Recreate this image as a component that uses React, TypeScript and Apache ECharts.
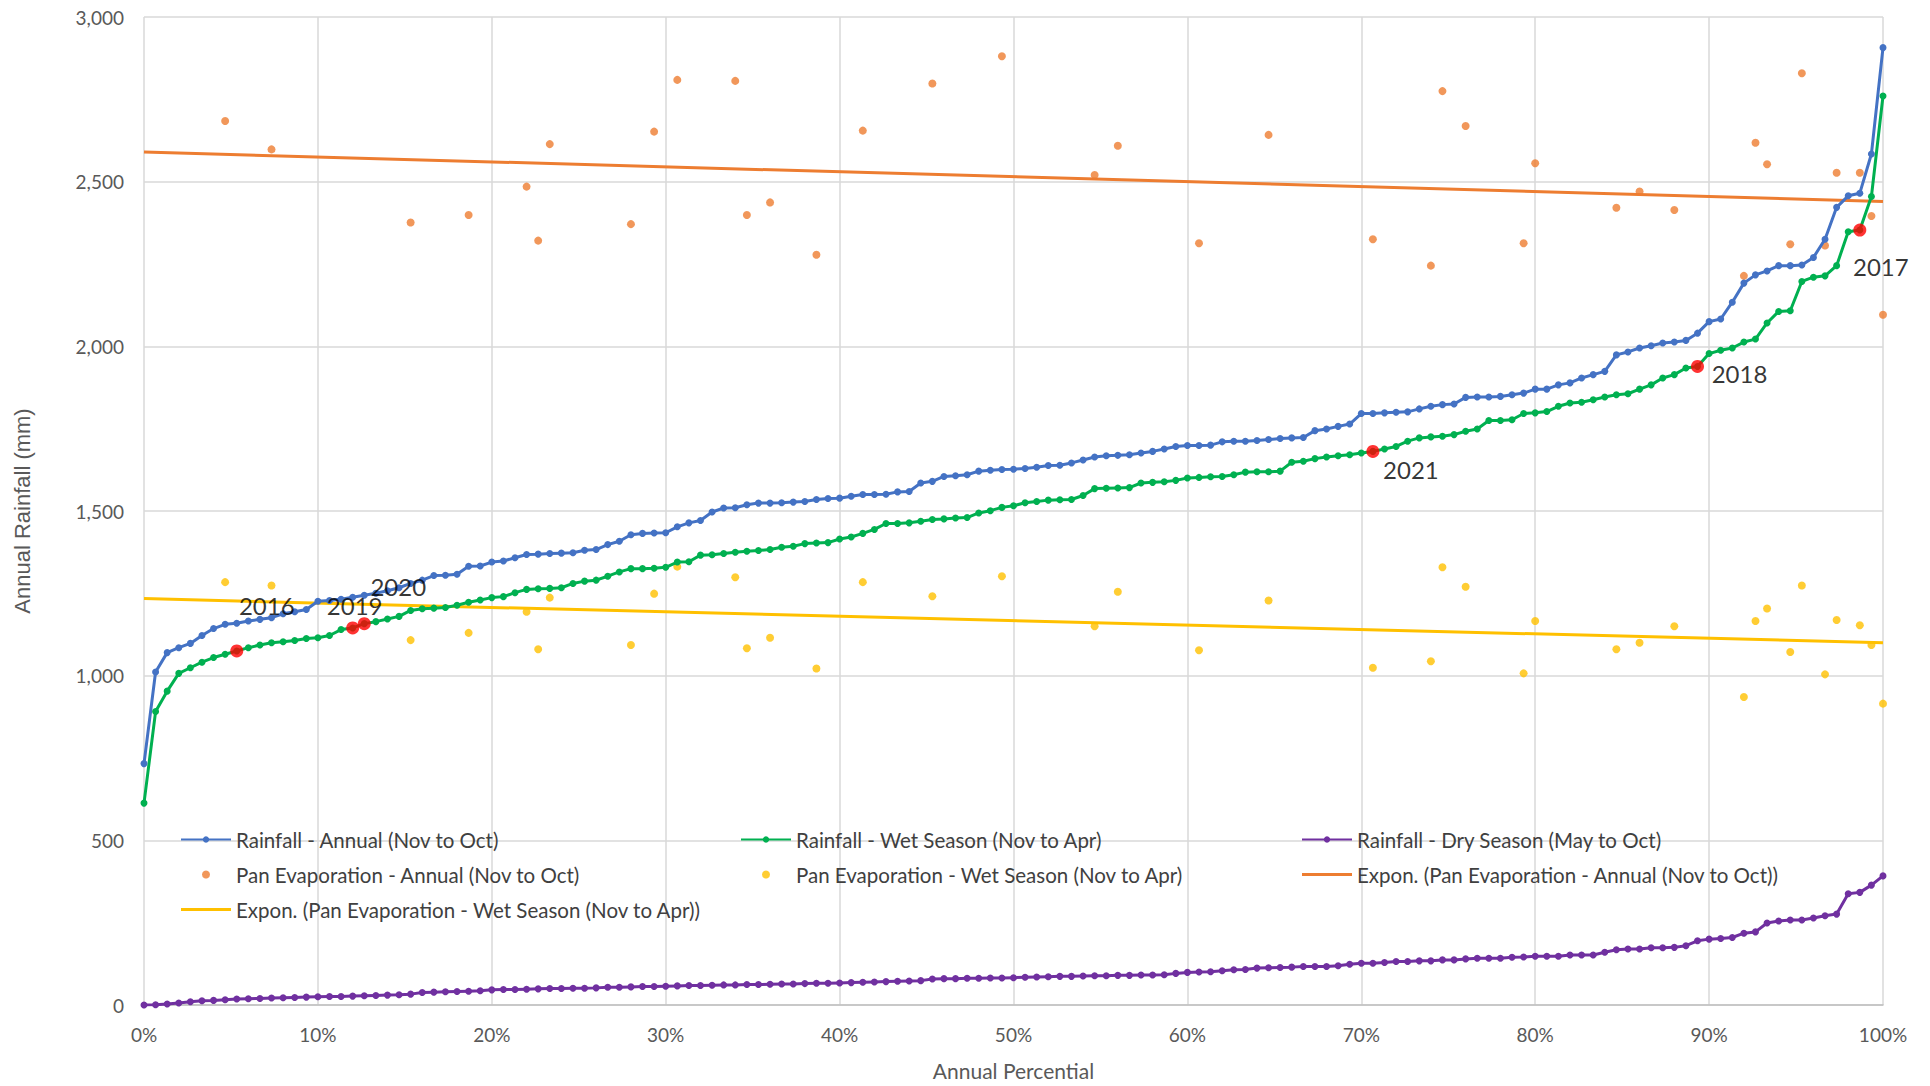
import React, { useEffect, useRef } from "react";
import * as echarts from "echarts";

// Rainfall sorted by rank (151 years), mm
const annualRain = [
  733, 1011, 1070, 1085, 1098, 1122, 1143, 1156, 1159, 1166,
  1171, 1176, 1188, 1194, 1201, 1226, 1228, 1232, 1238, 1244,
  1250, 1258, 1267, 1280, 1290, 1304, 1305, 1308, 1332, 1333,
  1345, 1348, 1358, 1368, 1369, 1371, 1372, 1373, 1381, 1383,
  1398, 1408, 1428, 1432, 1433, 1434, 1452, 1464, 1471, 1497,
  1509, 1510, 1519, 1524, 1524, 1525, 1527, 1529, 1535, 1538,
  1539, 1545, 1550, 1550, 1551, 1558, 1559, 1585, 1590, 1605,
  1607, 1610, 1621, 1624, 1626, 1627, 1629, 1633, 1638, 1639,
  1646, 1655, 1664, 1668, 1669, 1671, 1676, 1681, 1688, 1696,
  1699, 1699, 1700, 1710, 1712, 1712, 1714, 1717, 1720, 1722,
  1723, 1744, 1749, 1757, 1764, 1796, 1796, 1798, 1800, 1801,
  1810, 1818, 1823, 1825, 1845, 1846, 1846, 1848, 1853, 1858,
  1870, 1870, 1883, 1889, 1904, 1914, 1924, 1974, 1983, 1995,
  2002, 2010, 2013, 2018, 2040, 2075, 2083, 2134, 2192, 2217,
  2229, 2245, 2245, 2247, 2270, 2325, 2422, 2457, 2465, 2584,
  2907,
];

const wetRain = [
  613, 891, 953, 1007, 1024, 1041, 1055, 1065, 1075, 1085,
  1093, 1100, 1103, 1107, 1113, 1115, 1122, 1140, 1145, 1158,
  1164, 1172, 1180, 1198, 1203, 1205, 1207, 1214, 1223, 1230,
  1237, 1240, 1252, 1262, 1264, 1265, 1267, 1280, 1287, 1290,
  1302, 1315, 1325, 1325, 1326, 1329, 1345, 1346, 1366, 1367,
  1371, 1375, 1378, 1380, 1383, 1390, 1393, 1401, 1403, 1404,
  1415, 1421, 1432, 1444, 1462, 1462, 1464, 1469, 1474, 1476,
  1479, 1480, 1494, 1501, 1511, 1516, 1525, 1529, 1533, 1534,
  1535, 1547, 1568, 1569, 1570, 1571, 1585, 1587, 1589, 1593,
  1600, 1602, 1604, 1605, 1610, 1618, 1619, 1619, 1621, 1648,
  1651, 1659, 1664, 1668, 1671, 1676, 1681, 1688, 1696, 1712,
  1722, 1725, 1727, 1732, 1742, 1749, 1775, 1775, 1777, 1796,
  1798, 1802, 1818, 1828, 1830, 1838, 1846, 1853, 1856, 1870,
  1883, 1904, 1914, 1934, 1939, 1978, 1988, 1995, 2013, 2022,
  2071, 2106, 2108, 2197, 2210, 2214, 2245, 2348, 2353, 2455,
  2760,
];

const dryRain = [
  0, 1, 3, 6, 10, 13, 14, 16, 18, 19,
  20, 21, 22, 23, 24, 25, 26, 26, 27, 28,
  29, 30, 31, 33, 38, 39, 40, 41, 42, 43,
  46, 47, 47, 48, 49, 50, 50, 51, 51, 52,
  54, 54, 55, 56, 56, 57, 58, 59, 59, 60,
  61, 61, 62, 62, 63, 64, 64, 65, 66, 66,
  67, 68, 69, 70, 71, 72, 73, 74, 79, 80,
  80, 81, 81, 82, 82, 83, 84, 85, 86, 87,
  87, 88, 89, 89, 90, 90, 91, 91, 92, 96,
  99, 100, 101, 104, 107, 108, 112, 113, 114, 115,
  117, 117, 117, 119, 124, 127, 127, 129, 132, 132,
  134, 134, 137, 137, 140, 142, 142, 142, 145, 146,
  148, 148, 148, 152, 152, 152, 160, 168, 170, 170,
  174, 174, 175, 180, 195, 200, 202, 205, 218, 222,
  249, 255, 258, 258, 264, 271, 276, 338, 342, 364,
  392,
];

// Pan evaporation years: rank position within the rainfall ranking
const evapRank = [
  7, 11, 23, 28, 33, 34, 35, 42, 44, 46,
  51, 52, 54, 58, 62, 68, 74, 82, 84, 91,
  97, 106, 111, 112, 114, 119, 120, 127, 129, 132,
  138, 139, 140, 142, 143, 145, 146, 148, 149, 150,
];
const evapAnnual = [
  2684, 2598, 2376, 2399, 2485, 2321, 2614, 2371, 2652, 2809,
  2806, 2399, 2437, 2278, 2655, 2798, 2881, 2520, 2609, 2313,
  2642, 2325, 2245, 2775, 2669, 2313, 2556, 2421, 2470, 2414,
  2214, 2618, 2553, 2310, 2829, 2306, 2527, 2527, 2396, 2096,
];
const evapWet = [
  1284, 1274, 1108, 1130, 1194, 1080, 1237, 1093, 1249, 1331,
  1299, 1083, 1115, 1022, 1284, 1241, 1302, 1150, 1255, 1077,
  1228, 1024, 1044, 1329, 1270, 1007, 1166, 1080, 1100, 1150,
  935, 1166, 1204, 1072, 1274, 1004, 1169, 1153, 1093, 915,
];

// Exponential trend lines: values at 0% and 100%
const trendPct = [0, 100];
const trendAnnual = [2590, 2440];
const trendWet = [1234, 1100];

// Highlighted recent years (on the wet season curve)
const markedYears = ["2016", "2019", "2020", "2021", "2018", "2017"];
const markedRank = [8, 18, 19, 106, 134, 148];

const names = {
  annual: "Rainfall - Annual (Nov to Oct)",
  wet: "Rainfall - Wet Season (Nov to Apr)",
  dry: "Rainfall - Dry Season (May to Oct)",
  evA: "Pan Evaporation - Annual (Nov to Oct)",
  evW: "Pan Evaporation - Wet Season (Nov to Apr)",
  trA: "Expon. (Pan Evaporation - Annual (Nov to Oct))",
  trW: "Expon. (Pan Evaporation - Wet Season (Nov to Apr))",
};

// label offsets (style only)
const yearLabelOffsets = [
  [30, -45],
  [2, -22],
  [34, -37],
  [38, 18],
  [42, 7],
  [21, 36],
];

const FONT = "Lato";
const TXT = "#595959";
const LINE_ICON = "path://M0,0 L50,0 L50,3 L0,3 Z";

export default function App() {
  const ref = useRef<HTMLDivElement>(null);

  useEffect(() => {
    if (!ref.current) return;
    const chart = echarts.init(ref.current, undefined, { renderer: "svg" });
    const last = annualRain.length - 1;
    const pct = (i: number) => (i * 100) / last;
    const toPts = (arr: number[]) => arr.map((v, i) => [pct(i), v]);

    const lineSeries = (name: string, arr: number[], color: string) => ({
      name,
      type: "line",
      data: toPts(arr),
      symbol: "circle",
      symbolSize: 7,
      lineStyle: { color, width: 3 },
      itemStyle: { color },
      z: 3,
    });

    const legendBase = {
      orient: "vertical",
      top: 824,
      itemGap: 14,
      itemWidth: 50,
      itemHeight: 8,
      textStyle: { fontFamily: FONT, fontSize: 20.5, color: "#404040", lineHeight: 21 },
      selectedMode: false,
    };

    const option: any = {
      animation: false,
      backgroundColor: "#ffffff",
      grid: { left: 144, right: 47, top: 17, bottom: 80 },
      xAxis: {
        type: "value",
        min: 0,
        max: 100,
        interval: 10,
        name: "Annual Percential",
        nameLocation: "middle",
        nameGap: 55,
        nameTextStyle: { fontFamily: FONT, fontSize: 21, color: TXT },
        axisLine: { show: true, lineStyle: { color: "#BFBFBF", width: 1.5 } },
        axisTick: { show: false },
        axisLabel: {
          formatter: "{value}%",
          margin: 20,
          fontFamily: FONT,
          fontSize: 19,
          color: TXT,
        },
        splitLine: { show: true, lineStyle: { color: "#D9D9D9", width: 1.5 } },
      },
      yAxis: {
        type: "value",
        min: 0,
        max: 3000,
        interval: 500,
        name: "Annual Rainfall (mm)",
        nameLocation: "middle",
        nameGap: 111,
        nameTextStyle: { fontFamily: "Liberation Sans", fontSize: 22, color: TXT },
        axisLine: { show: false },
        axisTick: { show: false },
        axisLabel: {
          formatter: (v: number) => v.toLocaleString("en-US"),
          margin: 20,
          fontFamily: FONT,
          fontSize: 19,
          color: TXT,
        },
        splitLine: { show: true, lineStyle: { color: "#D9D9D9", width: 1.5 } },
      },
      legend: [
        {
          ...legendBase,
          left: 175,
          data: [names.annual, names.evA, { name: names.trW, icon: LINE_ICON }],
        },
        { ...legendBase, left: 735, data: [names.wet, names.evW] },
        {
          ...legendBase,
          left: 1296,
          data: [names.dry, { name: names.trA, icon: LINE_ICON }],
        },
      ],
      series: [
        {
          name: names.trA,
          type: "line",
          data: trendPct.map((p, i) => [p, trendAnnual[i]]),
          symbol: "none",
          lineStyle: { color: "#ED7D31", width: 3 },
          itemStyle: { color: "#ED7D31" },
          z: 2,
        },
        {
          name: names.trW,
          type: "line",
          data: trendPct.map((p, i) => [p, trendWet[i]]),
          symbol: "none",
          lineStyle: { color: "#FFC000", width: 3 },
          itemStyle: { color: "#FFC000" },
          z: 2,
        },
        {
          name: names.evA,
          type: "scatter",
          data: evapRank.map((r, i) => [pct(r), evapAnnual[i]]),
          symbol: "circle",
          symbolSize: 8,
          itemStyle: { color: "#ED7D31" },
          z: 2,
        },
        {
          name: names.evW,
          type: "scatter",
          data: evapRank.map((r, i) => [pct(r), evapWet[i]]),
          symbol: "circle",
          symbolSize: 8,
          itemStyle: { color: "#FFC000" },
          z: 2,
        },
        lineSeries(names.annual, annualRain, "#4472C4"),
        lineSeries(names.wet, wetRain, "#00B050"),
        lineSeries(names.dry, dryRain, "#7030A0"),
        {
          name: "Marked years",
          type: "scatter",
          data: markedRank.map((r, i) => ({
            value: [pct(r), wetRain[r]],
            label: {
              show: true,
              position: "inside",
              offset: yearLabelOffsets[i],
              formatter: markedYears[i],
            },
          })),
          symbol: "circle",
          symbolSize: 13,
          itemStyle: { color: "#FF0000" },
          label: {
            show: true,
            fontFamily: FONT,
            fontSize: 24,
            color: "#000000",
          },
          z: 5,
        },
      ],
    };

    chart.setOption(option);
    return () => chart.dispose();
  }, []);

  return (
    <div
      ref={ref}
      style={{ position: "fixed", left: 0, top: 0, width: 1930, height: 1086, background: "#fff" }}
    />
  );
}
